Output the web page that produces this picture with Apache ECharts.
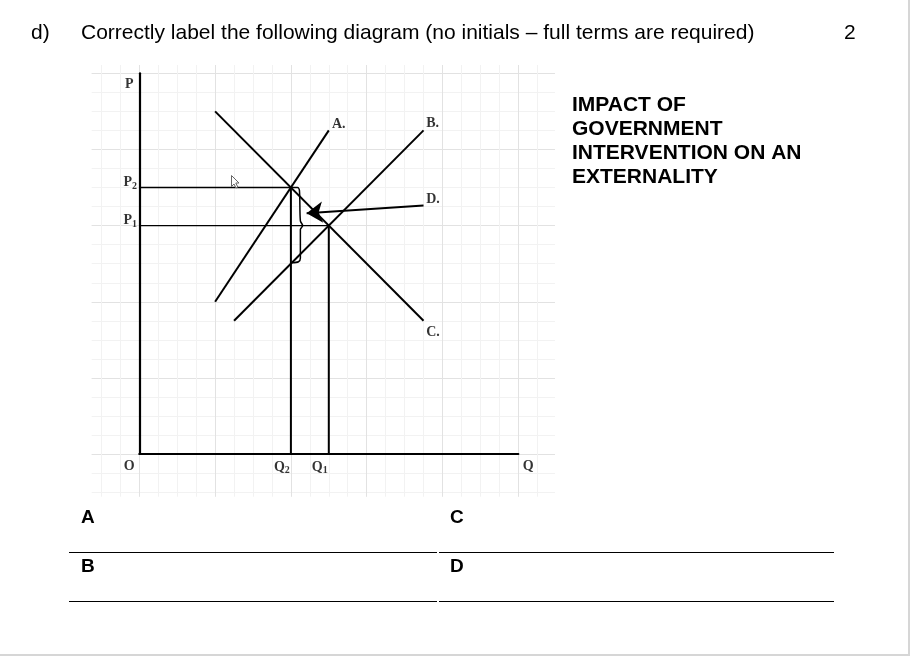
<!DOCTYPE html>
<html><head><meta charset="utf-8">
<script src="https://cdn.jsdelivr.net/npm/echarts@6/dist/echarts.min.js"></script>
<style>html,body{margin:0;padding:0;background:#fff}#c{width:910px;height:656px}</style>
</head><body><div id="c"></div>
<script>
// ---- data (units = background grid cells) ----
const curveA = [[4, 8], [10, 17]];
const curveB = [[5, 7], [15, 17]];
const curveC = [[4, 18], [15, 7]];
const arrowD = [[15, 13.05], [8.83, 12.65]];
const priceLevels = [14, 12];        // P2, P1
const quantityLevels = [8, 10];      // Q2, Q1
const priceLabels = ['P2', 'P1'];
const quantityLabels = ['Q2', 'Q1'];
const curveLabels = ['A.', 'B.', 'C.', 'D.'];
const axisNames = ['P', 'O', 'Q'];
const braceX = [8, 8.35, 8.45, 8.5, 8.62, 8.5, 8.5, 8.4, 8.05];
const braceY = [14, 14, 13.85, 12.25, 12, 11.8, 10.3, 10.1, 10.05];
const axisMax = 20;
const questionLetter = 'd)';
const questionText = 'Correctly label the following diagram (no initials \u2013 full terms are required)';
const questionMarks = '2';
const headingLines = ['IMPACT OF', 'GOVERNMENT', 'INTERVENTION ON AN', 'EXTERNALITY'];
const answerLetters = ['A', 'C', 'B', 'D'];

// ---- build ----
const SERIF = '"Liberation Serif", "Times New Roman", serif';
const SANS = '"Liberation Sans", Arial, sans-serif';
function sub(t) { return '{b|' + t[0] + '}{s|' + t.slice(1) + '}'; }
const rich = {
  b: {fontFamily: SERIF, fontWeight: 'bold', fontSize: 14, color: '#000', lineHeight: 16},
  s: {fontFamily: SERIF, fontWeight: 'bold', fontSize: 10, color: '#000', lineHeight: 16, padding: [7, 0, 0, 0]}
};
function lineSeries(data, width) {
  return {type: 'line', xAxisIndex: 0, yAxisIndex: 0, data: data, symbol: 'none', silent: true,
    lineStyle: {color: '#000', width: width}, z: 3, animation: false};
}
const series = [
  lineSeries(curveA, 2), lineSeries(curveB, 2), lineSeries(curveC, 2)
];
priceLevels.forEach((p, i) => {
  const q = quantityLevels[i];
  series.push(lineSeries([[0, p], [q, p]], 1.3));
  series.push(lineSeries([[q, p], [q, 0]], 2));
});
series.push(Object.assign(lineSeries(braceX.map((x, i) => [x, braceY[i]]), 1.5), {smooth: 0.3}));
series.push({
  type: 'lines', coordinateSystem: 'cartesian2d', xAxisIndex: 0, yAxisIndex: 0, polyline: false,
  data: [{coords: arrowD}], symbol: ['none', 'arrow'], symbolSize: [12, 16],
  lineStyle: {color: '#000', width: 2, opacity: 1, curveness: 0}, z: 4, animation: false, silent: true
});
// text labels
const labelOffsets = {
  P: [-10, 11], O: [-10, 12], Q: [10, 12],
  P2: [-9, -5], P1: [-9, -5], Q2: [-9, 13], Q1: [-9, 13],
  'A.': [10, -6], 'B.': [9, -7], 'C.': [9.5, 12], 'D.': [9.5, -6]
};
const labelData = [];
function addLabel(pt, text) {
  labelData.push({value: pt, label: {show: true, position: 'inside', offset: labelOffsets[text],
    formatter: text.length > 1 && text[1] !== '.' ? sub(text) : '{b|' + text + '}', rich: rich}});
}
addLabel([0, axisMax], axisNames[0]);
addLabel([0, 0], axisNames[1]);
addLabel([axisMax, 0], axisNames[2]);
priceLevels.forEach((p, i) => addLabel([0, p], priceLabels[i]));
quantityLevels.forEach((q, i) => addLabel([q, 0], quantityLabels[i]));
addLabel(curveA[1], curveLabels[0]);
addLabel(curveB[1], curveLabels[1]);
addLabel(curveC[1], curveLabels[2]);
addLabel(arrowD[0], curveLabels[3]);
series.push({type: 'scatter', xAxisIndex: 0, yAxisIndex: 0, data: labelData, symbolSize: 1,
  itemStyle: {color: 'rgba(0,0,0,0)'}, silent: true, z: 5, animation: false});

function bgAxis(grid, min, max, step, color) {
  return {gridIndex: grid, type: 'value', min: min, max: max, minInterval: step, maxInterval: step,
    axisLine: {show: false}, axisTick: {show: false}, axisLabel: {show: false}, z: 0,
    splitLine: {show: true, showMinLine: false, showMaxLine: false, lineStyle: {color: color, width: 1}}};
}
function mainAxis() {
  return {gridIndex: 0, type: 'value', min: 0, max: axisMax, z: 5,
    axisLine: {show: true, onZero: false, lineStyle: {color: '#000', width: 2.2}},
    axisTick: {show: false}, axisLabel: {show: false}, splitLine: {show: false}};
}
const bgGrid = {left: 91.7, top: 65, width: 463.3, height: 431.7, outerBoundsMode: 'none', containLabel: false};
const option = {
  backgroundColor: '#fff',
  animation: false,
  grid: [
    {left: 139.3, top: 73.3, width: 379, height: 380.7, outerBoundsMode: 'none', containLabel: false},
    Object.assign({}, bgGrid), Object.assign({}, bgGrid)
  ],
  xAxis: [mainAxis(), bgAxis(1, -2.51, 21.94, 1, '#f2f2f2'), bgAxis(2, -2.51, 21.94, 4, '#e2e2e2')],
  yAxis: [mainAxis(), bgAxis(1, -2.24, 20.44, 1, '#f2f2f2'), bgAxis(2, -2.24, 20.44, 4, '#e2e2e2')],
  series: series,
  graphic: [
    {type: 'text', left: 31, top: 23, style: {text: questionLetter, font: '21px ' + SANS, fill: '#000'}},
    {type: 'text', left: 81, top: 23, style: {text: questionText, font: '21px ' + SANS, fill: '#000'}},
    {type: 'text', left: 844, top: 23, style: {text: questionMarks, font: '21px ' + SANS, fill: '#000'}},
    {type: 'text', left: 572, top: 93, style: {text: headingLines.join('\n'), font: 'bold 21px ' + SANS, lineHeight: 24, fill: '#000'}},
    {type: 'text', left: 81, top: 508, style: {text: answerLetters[0], font: 'bold 19px ' + SANS, fill: '#000'}},
    {type: 'text', left: 450, top: 508, style: {text: answerLetters[1], font: 'bold 19px ' + SANS, fill: '#000'}},
    {type: 'text', left: 81, top: 557, style: {text: answerLetters[2], font: 'bold 19px ' + SANS, fill: '#000'}},
    {type: 'text', left: 450, top: 557, style: {text: answerLetters[3], font: 'bold 19px ' + SANS, fill: '#000'}},
    {type: 'line', shape: {x1: 69, y1: 552.5, x2: 437, y2: 552.5}, style: {stroke: '#000', lineWidth: 1}},
    {type: 'line', shape: {x1: 439, y1: 552.5, x2: 834, y2: 552.5}, style: {stroke: '#000', lineWidth: 1}},
    {type: 'line', shape: {x1: 69, y1: 601.5, x2: 437, y2: 601.5}, style: {stroke: '#000', lineWidth: 1}},
    {type: 'line', shape: {x1: 439, y1: 601.5, x2: 834, y2: 601.5}, style: {stroke: '#000', lineWidth: 1}},
    {type: 'line', shape: {x1: 909, y1: 0, x2: 909, y2: 656}, style: {stroke: '#d6d6d6', lineWidth: 2}},
    {type: 'line', shape: {x1: 0, y1: 655, x2: 910, y2: 655}, style: {stroke: '#d6d6d6', lineWidth: 2}},
    {type: 'polygon', shape: {points: [[231.5, 175.5], [231.5, 186.5], [234, 184], [236, 188], [237.8, 187], [235.8, 183], [239, 183]]},
      style: {fill: '#fff', stroke: '#666', lineWidth: 1}, z: 10}
  ]
};
const chart = echarts.init(document.getElementById('c'), null, {renderer: 'canvas'});
chart.setOption(option);
</script>
</body></html>
